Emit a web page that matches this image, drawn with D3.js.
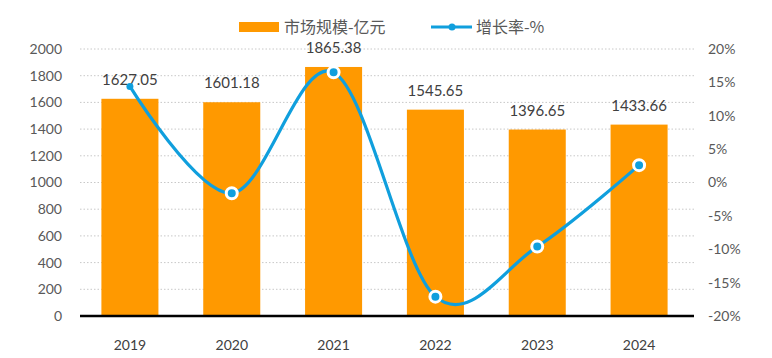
<!DOCTYPE html>
<html><head><meta charset="utf-8">
<script src="https://cdn.jsdelivr.net/npm/d3@7"></script>
<style>body{margin:0;background:#fff}svg{display:block}</style>
</head><body>
<svg id="c" width="772" height="358"></svg>
<script>
const years = ["2019","2020","2021","2022","2023","2024"];
const marketSize = [1627.05, 1601.18, 1865.38, 1545.65, 1396.65, 1433.66];
const growthRate = [14.4, -1.6, 16.5, -17.1, -9.6, 2.6];
const leftTicks = [0,200,400,600,800,1000,1200,1400,1600,1800,2000];
const rightTicks = [-20,-15,-10,-5,0,5,10,15,20];
const seriesNames = ["市场规模-亿元", "增长率-%"];

const svg = d3.select("#c");
const L = 80, R = 694, T = 49, B = 316;
const x = d3.scaleBand().domain(years).range([79, 690]).paddingInner(0.44).paddingOuter(0.22);
const yL = d3.scaleLinear().domain([0, 2000]).range([B, T]);
const yR = d3.scaleLinear().domain([-20, 20]).range([B, T]);
const font = "Lato, 'Open Sans', sans-serif";
const barColor = "#ff9900", lineColor = "#109fdd";

// gridlines
svg.append("g").selectAll("line").data(leftTicks.filter(d => d > 0)).join("line")
  .attr("x1", L).attr("x2", R).attr("y1", d => yL(d)).attr("y2", d => yL(d))
  .attr("stroke", "#c8c8c8").attr("stroke-width", 1).attr("stroke-dasharray", "1.5,2");

// left axis
const ga = svg.append("g").attr("transform", `translate(${L},0)`)
  .call(d3.axisLeft(yL).tickValues(leftTicks).tickSize(0).tickPadding(18).tickFormat(d3.format("d")));
ga.select(".domain").remove();
ga.selectAll("text").attr("font-family", font).attr("font-size", 14).attr("fill", "#595959");

// right axis
const gr = svg.append("g").attr("transform", `translate(${R},0)`)
  .call(d3.axisRight(yR).tickValues(rightTicks).tickSize(0).tickPadding(14).tickFormat(d => d + "%"));
gr.select(".domain").remove();
gr.selectAll("text").attr("font-family", font).attr("font-size", 14).attr("fill", "#595959");

// bars
svg.append("g").selectAll("rect").data(years).join("rect")
  .attr("x", d => x(d)).attr("width", x.bandwidth())
  .attr("y", (d, i) => yL(marketSize[i])).attr("height", (d, i) => B - yL(marketSize[i]))
  .attr("fill", barColor);

// bottom axis
const gx = svg.append("g").attr("transform", `translate(0,${B})`)
  .call(d3.axisBottom(x).tickSize(0).tickPadding(24));
gx.select(".domain").attr("d", `M${L},0H${R}`).attr("stroke", "#000").attr("stroke-width", 2.5);
gx.selectAll("text").attr("font-family", font).attr("font-size", 14).attr("fill", "#404040");

// bar labels
svg.append("g").selectAll("text").data(years).join("text")
  .attr("x", d => x(d) + x.bandwidth() / 2)
  .attr("y", (d, i) => yL(marketSize[i]) - 14)
  .attr("text-anchor", "middle").attr("font-family", font).attr("font-size", 15)
  .attr("fill", "#404040").text((d, i) => marketSize[i].toFixed(2));

// line
const pts = years.map((d, i) => [x(d) + x.bandwidth() / 2, yR(growthRate[i])]);
svg.append("path").datum(pts)
  .attr("d", d3.line().curve(d3.curveCardinal.tension(0)))
  .attr("fill", "none").attr("stroke", lineColor).attr("stroke-width", 3.2);
svg.append("g").selectAll("circle").data(pts.slice(1)).join("circle")
  .attr("cx", d => d[0]).attr("cy", d => d[1]).attr("r", 5.5)
  .attr("fill", lineColor).attr("stroke", "#fff").attr("stroke-width", 3);
svg.append("circle").attr("cx", pts[0][0]).attr("cy", pts[0][1]).attr("r", 3.5).attr("fill", lineColor);

// legend
const lg = svg.append("g");
lg.append("rect").attr("x", 239).attr("y", 22).attr("width", 40).attr("height", 10).attr("fill", barColor);
lg.append("text").attr("x", 284).attr("y", 33).attr("font-family", "'Noto Sans CJK SC', sans-serif")
  .attr("font-size", 16).attr("fill", "#595959").text(seriesNames[0]);
lg.append("line").attr("x1", 431).attr("x2", 472).attr("y1", 27).attr("y2", 27)
  .attr("stroke", lineColor).attr("stroke-width", 3);
lg.append("circle").attr("cx", 452).attr("cy", 27).attr("r", 3.5).attr("fill", lineColor);
lg.append("text").attr("x", 476).attr("y", 33).attr("font-family", "'Noto Sans CJK SC', sans-serif")
  .attr("font-size", 16).attr("fill", "#595959").text(seriesNames[1]);
</script>
</body></html>
